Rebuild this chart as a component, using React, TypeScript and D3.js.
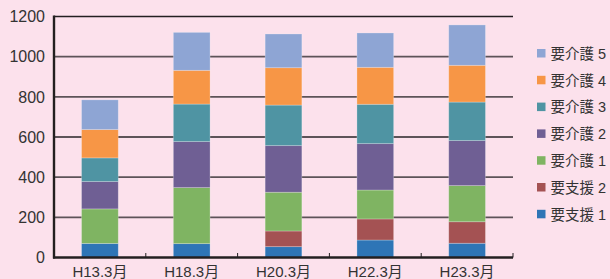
import { useEffect } from 'react';
import * as d3 from 'd3';

const categories = ['H13.3月', 'H18.3月', 'H20.3月', 'H22.3月', 'H23.3月'];
const seriesNames = ['要支援 1', '要支援 2', '要介護 1', '要介護 2', '要介護 3', '要介護 4', '要介護 5'];
const seriesColors = ['#2e75b6', '#a45253', '#7fb462', '#6f5f94', '#4f94a3', '#f79646', '#8ea5d4'];

const shien1 = [70, 69, 54, 87, 71];
const shien2 = [0, 0, 78, 105, 107];
const kaigo1 = [172, 279, 193, 144, 180];
const kaigo2 = [136, 229, 232, 231, 224];
const kaigo3 = [118, 187, 202, 196, 192];
const kaigo4 = [141, 168, 186, 184, 183];
const kaigo5 = [148, 189, 168, 171, 201];

const yTicks = [0, 200, 400, 600, 800, 1000, 1200];

const W = 610;
const H = 279;
const margin = { top: 16.5, right: 97, bottom: 21.5, left: 54 };
const FONT = '"Liberation Sans", Arial, "Noto Sans CJK JP", sans-serif';

export default function App() {
  useEffect(() => {
    document.body.style.margin = '0';
  }, []);

  const allSeries = [shien1, shien2, kaigo1, kaigo2, kaigo3, kaigo4, kaigo5];
  const rows = categories.map((c, i) => {
    const r: Record<string, number | string> = { cat: c };
    seriesNames.forEach((s, j) => (r[s] = allSeries[j][i]));
    return r;
  });
  const stacked = d3.stack<Record<string, number | string>>().keys(seriesNames)(rows as any);

  const x = d3.scaleBand().domain(categories).range([margin.left, W - margin.right]).paddingInner(0.6).paddingOuter(0.3);
  const xOuter = d3.scaleBand().domain(categories).range([margin.left, W - margin.right]);
  const y = d3.scaleLinear().domain([0, 1200]).range([H - margin.bottom, margin.top]);

  const boundaries = categories.map(c => xOuter(c)! + xOuter.bandwidth());

  return (
    <svg width={W} height={H} style={{ display: 'block', background: '#fce1ec' }} fontFamily={FONT}>
      <rect width={W} height={H} fill="#fce1ec" />
      {yTicks.map(t => (
        <g key={t}>
          {t > 0 && (
            <line
              x1={margin.left}
              x2={W - margin.right}
              y1={y(t)}
              y2={y(t)}
              stroke={t === 1200 ? '#231f20' : '#5d5358'}
              strokeWidth={t === 1200 ? 1.6 : 1.8}
            />
          )}
          <text x={45} y={y(t)} dy="0.36em" textAnchor="end" fontSize={16} fill="#333">
            {t}
          </text>
        </g>
      ))}
      {stacked.map((layer, j) => (
        <g key={layer.key} fill={seriesColors[j]}>
          {layer.map((d, i) =>
            d[1] - d[0] > 0 ? (
              <rect
                key={i}
                x={x(categories[i])}
                width={x.bandwidth()}
                y={y(d[1])}
                height={y(d[0]) - y(d[1])}
                stroke="rgba(255,255,255,0.3)"
                strokeWidth={0.8}
              />
            ) : null
          )}
        </g>
      ))}
      <line x1={margin.left} x2={margin.left} y1={margin.top - 1} y2={H - margin.bottom + 1} stroke="#231f20" strokeWidth={2.4} />
      <line x1={margin.left - 1} x2={W - margin.right} y1={H - margin.bottom} y2={H - margin.bottom} stroke="#231f20" strokeWidth={2.4} />
      {boundaries.map((b, i) => (
        <line key={i} x1={b} x2={b} y1={H - margin.bottom} y2={H - margin.bottom - 4.5} stroke="#231f20" strokeWidth={1} />
      ))}
      {categories.map(c => (
        <text key={c} x={xOuter(c)! + xOuter.bandwidth() / 2} y={277} textAnchor="middle" fontSize={15} fill="#333">
          {c}
        </text>
      ))}
      {seriesNames
        .map((s, j) => ({ s, j }))
        .reverse()
        .map(({ s, j }, k) => (
          <g key={s} transform={`translate(537,${53.5 + k * 26.8})`}>
            <rect x={0} y={-4.5} width={8.5} height={8.5} fill={seriesColors[j]} />
            <text x={13.5} y={0} dy="0.36em" fontSize={14.5} fill="#333">
              {s}
            </text>
          </g>
        ))}
    </svg>
  );
}
